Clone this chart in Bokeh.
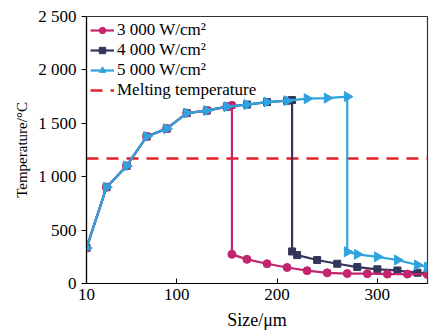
import numpy as np
from bokeh.plotting import figure
from bokeh.models import FixedTicker, Legend, LegendItem, Range1d
from bokeh.embed import file_html
from bokeh.resources import INLINE

x_ticks = [10, 100, 200, 300]
y_ticks = [0, 500, 1000, 1500, 2000, 2500]
y_tick_labels = ["0", "500", "1 000", "1 500", "2 000", "2 500"]

x_rise = [10, 30, 50, 70, 90, 110, 130, 150]
t_rise = [332, 902, 1101, 1376, 1450, 1596, 1619, 1656]

x_3000 = x_rise + [155, 155, 170, 190, 210, 230, 250, 270, 290, 310, 330, 350]
t_3000 = t_rise + [1668, 273, 226, 185, 150, 120, 100, 93, 92, 88, 88, 85]

x_4000 = x_rise + [170, 190, 210, 215, 215, 220, 240, 260, 280, 300, 320, 340, 350]
t_4000 = t_rise + [1675, 1699, 1712, 1718, 300, 266, 220, 185, 154, 133, 122, 101, 95]

x_5000 = x_rise + [170, 190, 210, 230, 250, 270, 270, 280, 300, 320, 340, 350]
t_5000 = t_rise + [1675, 1699, 1712, 1731, 1736, 1750, 297, 273, 250, 220, 173, 154]

melting_T = 1170

labels = ["3 000 W/cm\u00b2", "4 000 W/cm\u00b2", "5 000 W/cm\u00b2", "Melting temperature"]

FONT = "Liberation Serif"

p = figure(width=429, height=335, output_backend="svg", toolbar_location=None,
           x_range=Range1d(10, 350), y_range=Range1d(0, 2500))
p.min_border_left = 86
p.min_border_right = 2
p.min_border_top = 16
p.min_border_bottom = 52
p.background_fill_color = "white"
p.border_fill_color = "white"
p.outline_line_color = "#333333"
p.outline_line_width = 1.2
p.xgrid.visible = False
p.ygrid.visible = False

p.xaxis.ticker = FixedTicker(ticks=x_ticks)
p.yaxis.ticker = FixedTicker(ticks=y_ticks)
p.yaxis.major_label_overrides = {t: l for t, l in zip(y_ticks, y_tick_labels)}
for ax in (p.xaxis[0], p.yaxis[0]):
    ax.axis_line_color = "black"
    ax.axis_line_width = 1.2
    ax.major_tick_line_color = "black"
    ax.minor_tick_line_color = None
    ax.major_label_text_font = FONT
    ax.major_label_text_font_size = "17px"
    ax.major_label_text_color = "black"
    ax.axis_label_text_font = FONT
    ax.axis_label_text_font_style = "normal"
    ax.axis_label_text_color = "black"
p.xaxis.axis_label_text_font_size = "18px"
p.yaxis.axis_label_text_font_size = "15px"
p.xaxis.major_tick_in = 5
p.xaxis.major_tick_out = 0
p.yaxis.major_tick_in = 0
p.yaxis.major_tick_out = 5
p.xaxis.axis_label = "Size/\u03bcm"
p.yaxis.axis_label = "Temperature/\u00b0C"
p.xaxis.axis_label_standoff = 7
p.yaxis.axis_label_standoff = 5

red = "#E8202A"
mag = "#C2246E"
navy = "#33365A"
blue = "#2EA3DE"

melt = p.line([10, 350], [melting_T, melting_T], line_color=red, line_width=2.5, line_dash="12 8")

r4l = p.line(x_4000, t_4000, line_color=navy, line_width=2.2)
r4m = p.scatter(x_4000, t_4000, marker="square", size=7, color=navy)
r3l = p.line(x_3000, t_3000, line_color=mag, line_width=2.2)
r3m = p.scatter(x_3000, t_3000, marker="circle", size=8, color=mag)
r5l = p.line(x_5000, t_5000, line_color=blue, line_width=2.2)
r5m = p.scatter(x_5000, t_5000, marker="triangle", size=10, color=blue, angle=-np.pi / 2)

legend = Legend(items=[
    LegendItem(label=labels[0], renderers=[r3l, r3m]),
    LegendItem(label=labels[1], renderers=[r4l, r4m]),
    LegendItem(label=labels[2], renderers=[r5l, r5m]),
    LegendItem(label=labels[3], renderers=[melt]),
], location="top_left")
legend.border_line_color = None
legend.background_fill_alpha = 0
legend.label_text_font = FONT
legend.label_text_font_size = "17px"
legend.label_text_color = "black"
legend.spacing = 0
legend.padding = 2
legend.margin = 4
legend.glyph_height = 16
legend.label_height = 16
legend.glyph_width = 24
legend.label_standoff = 3
p.add_layout(legend)

open("out.html", "w").write(file_html(p, INLINE))
